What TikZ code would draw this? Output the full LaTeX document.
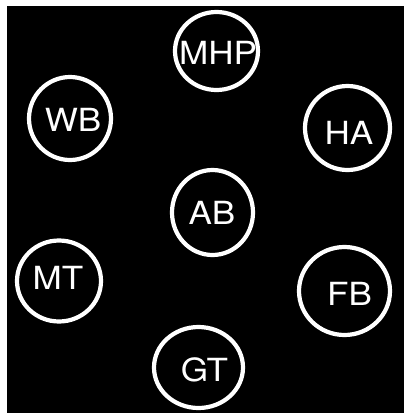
\documentclass[tikz,border=0pt]{standalone}
\usepackage{fontspec}
\usetikzlibrary{shapes.geometric}
\setmainfont{TeX Gyre Heros}
\newfontfamily\lblfont[FakeStretch=1.1]{TeX Gyre Heros}
\begin{document}
\begin{tikzpicture}[x=1bp,y=-1bp,
  ring/.style={ellipse,draw=white,line width=4.2bp,inner sep=0pt},
  lbl/.style={text=white,inner sep=0pt,font=\lblfont\fontsize{32}{32}\selectfont}]
\useasboundingbox (0,0) rectangle (404,413);
\fill[white] (0,0) rectangle (404,413);
\fill[black] (7,6) rectangle (404,413);
% rings
\node[ring,minimum width=83bp,minimum height=78bp] (MHP) at (216.5,51) {};
\node[ring,minimum width=82bp,minimum height=83bp] (WB) at (70,118.5) {};
\node[ring,minimum width=85bp,minimum height=84bp] (HA) at (347.5,128) {};
\node[ring,minimum width=81bp,minimum height=85bp] (AB) at (212.5,212.5) {};
\node[ring,minimum width=84bp,minimum height=81bp] (MT) at (59,281) {};
\node[ring,minimum width=91bp,minimum height=88bp] (FB) at (344.5,291) {};
\node[ring,minimum width=89bp,minimum height=81bp] (GT) at (198.5,367.5) {};
% labels
\node[lbl] (MHP-t) at (218,52.5) {MHP};
\node[lbl] (WB-t) at (73,120) {WB};
\node[lbl] (HA-t) at (349,132.5) {HA};
\node[lbl] (AB-t) at (212,213) {AB};
\node[lbl] (MT-t) at (58,278) {MT};
\node[lbl] (FB-t) at (349.5,293.5) {FB};
\node[lbl] (GT-t) at (204.5,370) {GT};
\end{tikzpicture}
\end{document}
